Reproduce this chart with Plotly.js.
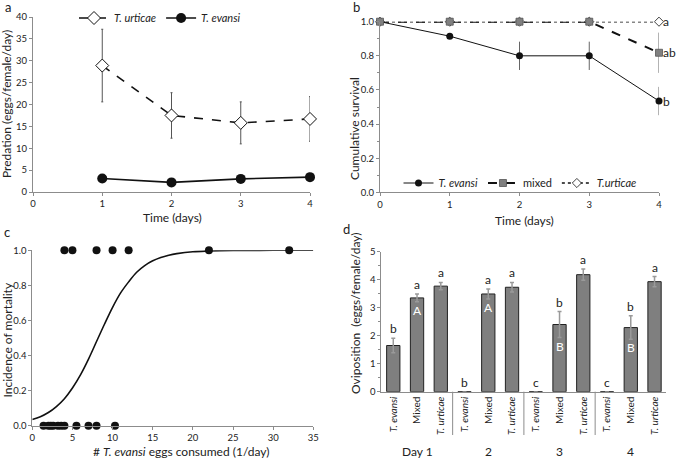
<!DOCTYPE html>
<html>
<head>
<meta charset="utf-8">
<script src="https://cdn.plot.ly/plotly-3.0.1.min.js"></script>
<style>
  html, body { margin: 0; padding: 0; background: #fff; }
  #chart { width: 677px; height: 459px; }
</style>
</head>
<body>
<div id="chart"></div>
<script>
// ── Data ────────────────────────────────────────────────────────────────────

// a: predation per day
const predDays        = [1, 2, 3, 4];
const predUrticae     = [28.9, 17.5, 15.8, 16.7];
const predUrticaeErr  = [8.3, 5.2, 4.8, 5.1];
const predEvansi      = [3.1, 2.2, 3.0, 3.4];
const predEvansiErr   = [0.9, 0.3, 0.6, 0.9];

// b: cumulative survival
const survDays        = [0, 1, 2, 3, 4];
const survEvansi      = [1.0, 0.915, 0.80, 0.80, 0.535];
const survEvansiErr   = [0, 0, 0.083, 0.083, 0.083];
const survMixed       = [1.0, 1.0, 1.0, 1.0, 0.818];
const survMixedErr    = [0, 0, 0, 0, 0.118];
const survUrticae     = [1.0, 1.0, 1.0, 1.0, 1.0];
const survLetters     = { evansi: 'b', mixed: 'ab', urticae: 'a' };

// c: mortality vs eggs consumed
const mortX           = [1.4, 2.0, 2.3, 2.6, 3.2, 3.6, 4.0, 5.5, 7.0, 8.0, 10.3,
                         4.0, 5.0, 8.0, 10.0, 12.0, 22.0, 32.0];
const mortY           = [0, 0, 0, 0, 0, 0, 0, 0, 0, 0, 0,
                         1, 1, 1, 1, 1, 1, 1];
const fitX            = [0, 1, 2, 3, 4, 5, 6, 7, 8, 9, 10, 11, 12, 13, 14, 15, 16, 17, 18, 20, 22, 25, 30, 35];
const fitY            = [0.035, 0.051, 0.075, 0.109, 0.154, 0.215, 0.29, 0.38, 0.48, 0.58, 0.675, 0.757,
                         0.82, 0.875, 0.913, 0.94, 0.959, 0.972, 0.981, 0.992, 0.996, 0.999, 1.0, 1.0];

// d: oviposition, 3 diets x 4 days
const oviDays         = ['Day 1', '2', '3', '4'];
const oviDiets        = ['<i>T. evansi</i>', 'Mixed', '<i>T. urticae</i>'];
const oviValues       = [1.65, 3.35, 3.77,  0, 3.49, 3.73,  0, 2.40, 4.18,  0, 2.29, 3.93];
const oviErr          = [0.26, 0.14, 0.13,  0, 0.18, 0.17,  0, 0.46, 0.20,  0, 0.42, 0.18];
const oviLetters      = ['b', 'a', 'a',  'b', 'a', 'a',  'c', 'b', 'a',  'c', 'b', 'a'];
const mixedLetters    = ['A', 'A', 'B', 'B'];
const mixedLetterY    = [2.9, 3.0, 1.62, 1.58];

// ── Shared styling ──────────────────────────────────────────────────────────

const W = 677, H = 459;
const FONT = 'Lato, "Open Sans", sans-serif';
const INK  = '#222';
const AXIS = '#8c8c8c';

const px = x => x / W;            // pixel -> paper x
const py = y => 1 - y / H;        // pixel -> paper y

const axisBase = {
  showline: true, linecolor: AXIS, linewidth: 1,
  ticks: 'outside', ticklen: 3, tickcolor: AXIS,
  showgrid: false, zeroline: false,
  tickfont: { family: FONT, size: 9.5, color: INK },
  fixedrange: true,
};

const titleFont = { family: FONT, size: 12, color: INK, weight: 'normal' };

const note = (x, y, text, extra = {}) => ({
  xref: 'paper', yref: 'paper', x, y, text, showarrow: false,
  xanchor: 'center', yanchor: 'middle', borderpad: 0,
  font: titleFont, ...extra,
});

// ── Traces ──────────────────────────────────────────────────────────────────

const traces = [
  // a
  {
    x: predDays, y: predUrticae, xaxis: 'x', yaxis: 'y', type: 'scatter', mode: 'lines+markers',
    name: '<i>T. urticae</i>', legend: 'legend', cliponaxis: false,
    line: { color: '#111', width: 1.6, dash: 'dash' },
    marker: { symbol: 'diamond', size: 10, color: '#fff', line: { color: '#111', width: 1 } },
    error_y: { type: 'data', array: predUrticaeErr, color: '#555', thickness: 1, width: 1 },
  },
  {
    x: predDays, y: predEvansi, xaxis: 'x', yaxis: 'y', type: 'scatter', mode: 'lines+markers',
    name: '<i>T. evansi</i>', legend: 'legend', cliponaxis: false,
    line: { color: '#111', width: 1.6 },
    marker: { symbol: 'circle', size: 10, color: '#111' },
    error_y: { type: 'data', array: predEvansiErr, color: '#555', thickness: 1, width: 1 },
  },
  // b
  {
    x: survDays, y: survEvansi, xaxis: 'x2', yaxis: 'y2', type: 'scatter', mode: 'lines+markers',
    name: '<i>T. evansi</i>', legend: 'legend2', legendrank: 1, cliponaxis: false,
    line: { color: '#111', width: 1 },
    marker: { symbol: 'circle', size: 7, color: '#111' },
    error_y: { type: 'data', array: survEvansiErr, color: '#666', thickness: 1, width: 0 },
  },
  {
    x: survDays, y: survUrticae, xaxis: 'x2', yaxis: 'y2', type: 'scatter', mode: 'lines+markers',
    name: '<i>T.urticae</i>', legend: 'legend2', legendrank: 3, cliponaxis: false,
    line: { color: '#111', width: 1.5, dash: 'dot' },
    marker: { symbol: 'diamond', size: 7, color: '#fff', line: { color: '#111', width: 0.8 } },
  },
  {
    x: survDays, y: survMixed, xaxis: 'x2', yaxis: 'y2', type: 'scatter', mode: 'lines+markers',
    name: 'mixed', legend: 'legend2', legendrank: 2, cliponaxis: false,
    line: { color: '#111', width: 2, dash: 'dash' },
    marker: { symbol: 'square', size: 7, color: '#808080', line: { color: '#555', width: 0.8 } },
    error_y: { type: 'data', array: survMixedErr, color: '#666', thickness: 1, width: 0 },
  },
  // c
  {
    x: fitX, y: fitY, xaxis: 'x3', yaxis: 'y3', type: 'scatter', mode: 'lines',
    line: { color: '#111', width: 1.6, shape: 'spline' }, showlegend: false, cliponaxis: false,
  },
  {
    x: mortX, y: mortY, xaxis: 'x3', yaxis: 'y3', type: 'scatter', mode: 'markers',
    marker: { size: 8, color: '#111' }, showlegend: false, cliponaxis: false,
  },
  // d
  {
    x: oviValues.map((_, i) => i), y: oviValues, xaxis: 'x4', yaxis: 'y4', type: 'bar',
    width: 0.56, showlegend: false,
    marker: { color: '#7f7f7f', line: { color: '#222', width: 1 } },
    error_y: { type: 'data', array: oviErr, color: '#9a9a9a', thickness: 1.5, width: 2 },
  },
];

// ── Annotations ─────────────────────────────────────────────────────────────

const letterFont = { family: FONT, size: 13, color: INK };

const annotations = [
  // panel letters
  note(px(8), py(7), 'a', { font: letterFont }),
  note(px(356), py(7), 'b', { font: letterFont }),
  note(px(7), py(232), 'c', { font: letterFont }),
  note(px(346), py(229), 'd', { font: letterFont }),

  // axis titles
  note(px(172), py(218), 'Time (days)'),
  note(px(7), py(104), 'Predation (eggs/female/day)', { textangle: -90 }),
  note(px(524), py(220), 'Time (days)'),
  note(px(354), py(129), 'Cumulative survival', { textangle: -90 }),
  note(px(181), py(451), '# <i>T. evansi</i> eggs consumed (1/day)'),
  note(px(6.5), py(340), 'Incidence of mortality', { textangle: -90 }),
  note(px(355), py(314), 'Oviposition  (eggs/female/day)', { textangle: -90 }),
];

// b: significance letters at the last day
const lastDay = survDays[survDays.length - 1];
[
  [survUrticae, survLetters.urticae],
  [survMixed,   survLetters.mixed],
  [survEvansi,  survLetters.evansi],
].forEach(([series, txt]) => annotations.push({
  xref: 'x2', yref: 'y2', x: lastDay, y: series[series.length - 1], text: txt,
  showarrow: false, xanchor: 'left', xshift: 3, borderpad: 0,
  font: { family: FONT, size: 12, color: INK },
}));

// d: letters above bars, capitals inside the mixed bars, day labels
oviValues.forEach((v, i) => annotations.push({
  xref: 'x4', yref: 'y4', x: i, y: v + oviErr[i], text: oviLetters[i],
  showarrow: false, yanchor: 'bottom',
  font: { family: FONT, size: 12, color: INK },
}));
mixedLetters.forEach((txt, g) => annotations.push({
  xref: 'x4', yref: 'y4', x: g * oviDiets.length + 1, y: mixedLetterY[g], text: txt,
  showarrow: false, font: { family: FONT, size: 12, color: '#fff' },
}));
oviDays.forEach((txt, g) => annotations.push({
  xref: 'x4', yref: 'paper', x: g * oviDiets.length + 1, y: py(451), text: txt,
  showarrow: false, yanchor: 'middle', font: titleFont,
}));

// d: group dividers below the axis
const shapes = oviDays.slice(1).map((_, g) => ({
  type: 'line', xref: 'x4', yref: 'paper',
  x0: (g + 1) * oviDiets.length - 0.5, x1: (g + 1) * oviDiets.length - 0.5,
  y0: py(391.7), y1: py(435),
  line: { color: AXIS, width: 1 },
}));

// ── Layout ──────────────────────────────────────────────────────────────────

const legendBase = {
  orientation: 'h', xanchor: 'center', yanchor: 'middle',
  bgcolor: 'rgba(0,0,0,0)', borderwidth: 0,
  font: { family: FONT, size: 11, color: INK },
  itemwidth: 30, tracegroupgap: 0,
};

const layout = {
  width: W, height: H,
  margin: { l: 0, r: 0, t: 0, b: 0 },
  paper_bgcolor: '#fff', plot_bgcolor: '#fff',
  font: { family: FONT, color: INK },
  showlegend: true,
  legend:  { ...legendBase, x: px(160), y: py(18) },
  legend2: { ...legendBase, x: px(520), y: py(183) },

  xaxis:  { ...axisBase, anchor: 'y',  domain: [px(33), px(310)], range: [0, 4], dtick: 1 },
  yaxis:  { ...axisBase, anchor: 'x',  domain: [py(192), py(17)], range: [0, 40], dtick: 5 },

  xaxis2: { ...axisBase, anchor: 'y2', domain: [px(380), px(659)], range: [0, 4], dtick: 1 },
  yaxis2: { ...axisBase, anchor: 'x2', domain: [py(192.3), py(21.7)], range: [0, 1], dtick: 0.2,
            tickformat: '.1f', minor: { ticks: 'outside', ticklen: 2, dtick: 0.1, tickcolor: AXIS } },

  xaxis3: { ...axisBase, anchor: 'y3', domain: [px(32.3), px(313.3)], range: [0, 35], dtick: 5 },
  yaxis3: { ...axisBase, anchor: 'x3', domain: [py(425.7), py(250.3)], range: [0, 1], dtick: 0.2,
            tickformat: '.1f' },

  xaxis4: { ...axisBase, anchor: 'y4', domain: [px(381.4), px(666.4)], range: [-0.5, 11.5],
            tickmode: 'array', tickvals: oviValues.map((_, i) => i),
            ticktext: oviDays.flatMap(() => oviDiets), tickangle: -90, ticks: '',
            tickfont: { family: FONT, size: 10, color: INK } },
  yaxis4: { ...axisBase, anchor: 'x4', domain: [py(391.7), py(251.7)], range: [0, 5], dtick: 1,
            minor: { ticks: 'outside', ticklen: 2, dtick: 0.5, tickcolor: AXIS } },

  annotations, shapes,
};

Plotly.newPlot('chart', traces, layout, { staticPlot: true, displayModeBar: false });
</script>
</body>
</html>
